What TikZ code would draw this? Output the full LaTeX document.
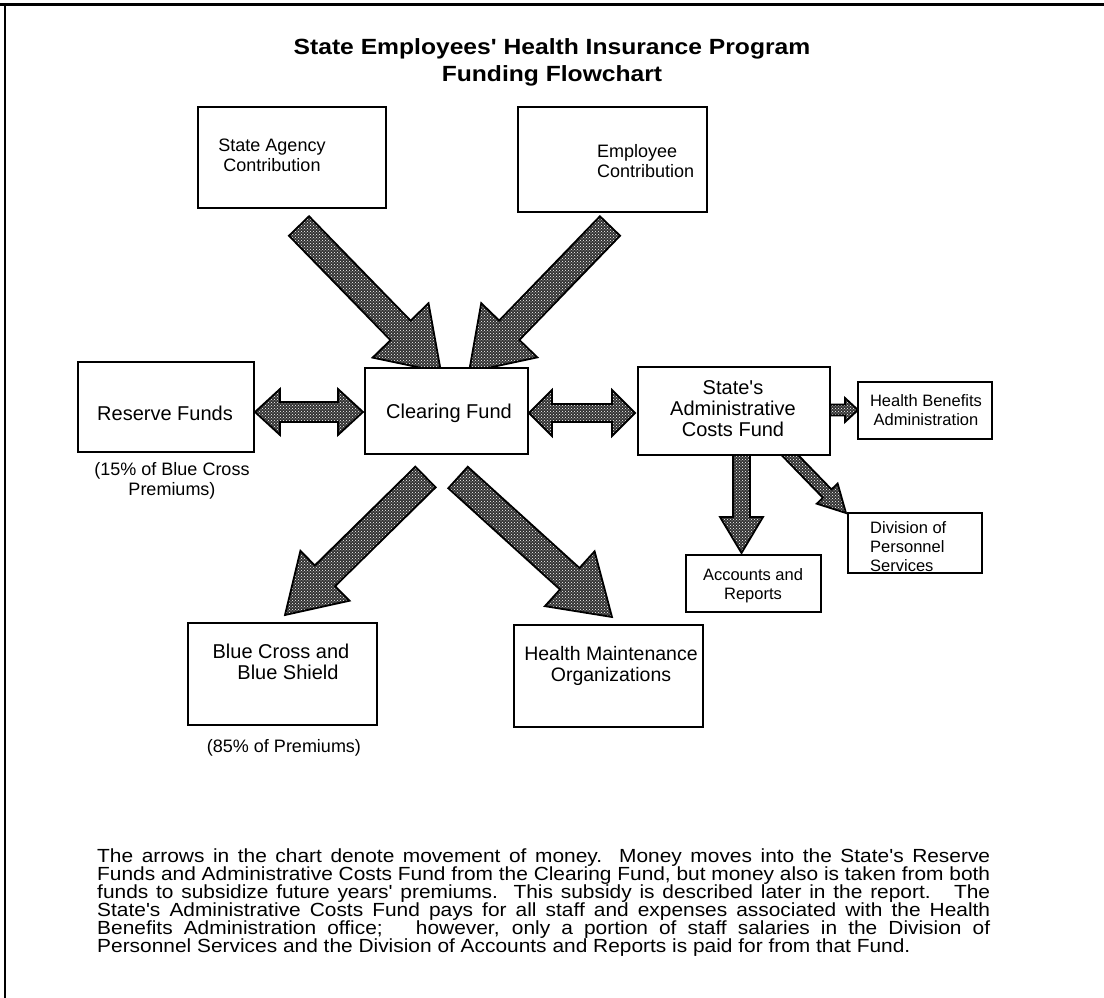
\documentclass[tikz,border=0pt]{standalone}
\usepackage{fontspec}
\setmainfont{Liberation Sans}
\newfontfamily\plainsans{Liberation Sans}
\newfontfamily\widesans{Liberation Sans}[FakeStretch=1.12]
\newfontfamily\parasans{Liberation Sans}[FakeStretch=1.1]
\usetikzlibrary{calc,patterns}
\newcommand\blockarr[5]{%
  \coordinate (bh) at ($(#2)!#5!(#1)$);
  \path[arrowsty] ($(#1)!#3!90:(#2)$) -- ($(bh)!#3!90:(#2)$) -- ($(bh)!#4!90:(#2)$) -- (#2)
    -- ($(bh)!#4!-90:(#2)$) -- ($(bh)!#3!-90:(#2)$) -- ($(#1)!#3!-90:(#2)$) -- cycle;}
\newcommand\dblarr[5]{%
  \coordinate (ha) at ($(#1)!#5!(#2)$);
  \coordinate (hb) at ($(#2)!#5!(#1)$);
  \path[arrowsty] (#1) -- ($(ha)!#4!90:(#2)$) -- ($(ha)!#3!90:(#2)$) -- ($(hb)!#3!-90:(#1)$)
    -- ($(hb)!#4!-90:(#1)$) -- (#2) -- ($(hb)!#4!90:(#1)$) -- ($(hb)!#3!90:(#1)$)
    -- ($(ha)!#3!-90:(#2)$) -- ($(ha)!#4!-90:(#2)$) -- cycle;}
\newcommand\pline[1]{\makebox[893pt][s]{#1}}
\tikzset{
  arrowsty/.style={draw=black, line width=1.8pt, line join=miter,
    preaction={fill=black!80}, pattern=crosshatch dots, pattern color=white},
  box/.style={draw=black, line width=1.6pt, fill=white, inner sep=0pt},
  big/.style={font=\plainsans\fontsize{20}{21}\selectfont, align=center, inner sep=0pt},
  mid/.style={font=\plainsans\fontsize{18}{20}\selectfont, align=left, inner sep=0pt},
  small/.style={font=\plainsans\fontsize{16.5}{19}\selectfont, inner sep=0pt},
  para/.style={font=\parasans\fontsize{19}{18}\selectfont, anchor=west, inner sep=0pt},
}
\begin{document}
\begin{tikzpicture}[x=1pt,y=-1pt]
\useasboundingbox (0,0) rectangle (1104,998);
% frame
\draw[line width=3pt] (0,5) -- (1104,5);
\draw[line width=2pt] (5,5) -- (5,998);
% title
\node[font=\widesans\fontsize{22}{27}\selectfont\bfseries, align=center] (title) at (552,62)
  {State Employees' Health Insurance Program\\Funding Flowchart};
% arrow end points
\coordinate (a1s) at (299,226); \coordinate (a1e) at (441,372);
\coordinate (a2s) at (610,226); \coordinate (a2e) at (469,372);
\coordinate (a3s) at (425.5,477); \coordinate (a3e) at (285,615);
\coordinate (a4s) at (458,477.5); \coordinate (a4e) at (612,617);
\coordinate (d1a) at (255,412); \coordinate (d1b) at (363,412);
\coordinate (d2a) at (529,413); \coordinate (d2b) at (635,413);
\coordinate (s1s) at (826,410); \coordinate (s1e) at (858,410);
\coordinate (s2s) at (741.5,450); \coordinate (s2e) at (741.5,553);
\coordinate (s3s) at (783,448); \coordinate (s3e) at (846,513);
% arrows
\blockarr{a1s}{a1e}{14pt}{39pt}{58pt}
\blockarr{a2s}{a2e}{14pt}{39pt}{58pt}
\blockarr{a3s}{a3e}{14.5pt}{35pt}{56pt}
\blockarr{a4s}{a4e}{14.5pt}{37pt}{57pt}
\dblarr{d1a}{d1b}{10pt}{23pt}{25pt}
\dblarr{d2a}{d2b}{9pt}{23pt}{23pt}
\blockarr{s1s}{s1e}{5.5pt}{12pt}{13pt}
\blockarr{s2s}{s2e}{8.5pt}{21.5pt}{36pt}
\blockarr{s3s}{s3e}{6pt}{14.5pt}{27pt}
% boxes
\node[box, minimum width=188pt, minimum height=101pt] (agency) at (292,157.5) {};
\node[box, minimum width=189pt, minimum height=105pt] (employee) at (612.5,159.5) {};
\node[box, minimum width=176pt, minimum height=90pt] (reserve) at (166,407) {};
\node[box, minimum width=163pt, minimum height=86pt] (clearing) at (446.5,411) {};
\node[box, minimum width=192pt, minimum height=88pt] (admin) at (734,411) {};
\node[box, minimum width=134pt, minimum height=57pt] (hba) at (925,410.5) {};
\node[box, minimum width=135pt, minimum height=57pt] (acc) at (753.5,583.5) {};
\node[box, minimum width=134pt, minimum height=60pt] (dps) at (915,543) {};
\node[box, minimum width=189pt, minimum height=102pt] (bcbs) at (282.5,674) {};
\node[box, minimum width=189pt, minimum height=102pt] (hmo) at (608.5,676) {};
% box texts
\node[mid, align=center] (tagency) at (272,155) {State Agency\\Contribution};
\node[mid, anchor=west] (temployee) at (597,161) {Employee\\Contribution};
\node[big] (treserve) at (165,413) {Reserve Funds};
\node[big] (tclearing) at (449,413) {Clearing Fund};
\node[big] (tadmin) at (733,409) {State's\\Administrative\\Costs Fund};
\node[small, align=center] (thba) at (926,410) {Health Benefits\\Administration};
\node[small, align=center] (tacc) at (753,586) {Accounts and\\Reports};
\node[small, align=left, anchor=north west] (tdps) at (870,521) {Division of\\Personnel\\Services};
\node[big] (tbcbs) at (281,662) {Blue Cross and\\\hspace*{14pt}Blue Shield};
\node[big, font=\plainsans\fontsize{19.5}{21}\selectfont] (thmo) at (611,666) {Health Maintenance\\Organizations};
% annotations
\node[mid, align=center] (n15) at (172,481) {(15\% of Blue Cross\\Premiums)};
\node[mid] (n85) at (284,748) {(85\% of Premiums)};
% paragraph
\node[para] (p1) at (97,858) {\pline{The arrows in the chart denote movement of money.\ \ Money moves into the State's Reserve}};
\node[para] (p2) at (97,876) {\pline{Funds and Administrative Costs Fund from the Clearing Fund, but money also is taken from both}};
\node[para] (p3) at (97,894) {\pline{funds to subsidize future years' premiums.\ \ This subsidy is described later in the report.\ \ \ The}};
\node[para] (p4) at (97,912) {\pline{State's Administrative Costs Fund pays for all staff and expenses associated with the Health}};
\node[para] (p5) at (97,930) {\pline{Benefits Administration office;\ \ \ however, only a portion of staff salaries in the Division of}};
\node[para] (p6) at (97,948) {Personnel Services and the Division of Accounts and Reports is paid for from that Fund.};
\end{tikzpicture}
\end{document}
